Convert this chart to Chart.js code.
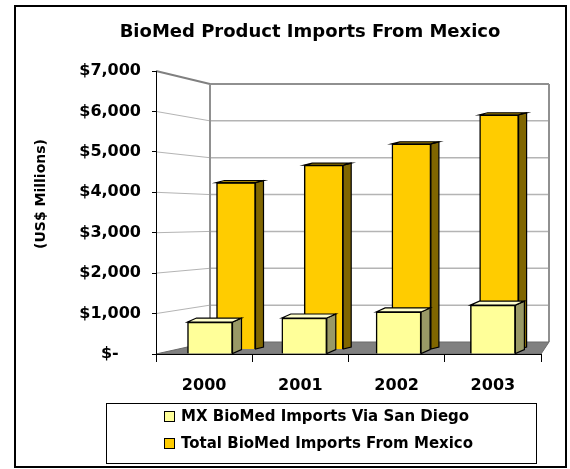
<!DOCTYPE html>
<html>
<head>
<meta charset="utf-8">
<script src="https://cdn.jsdelivr.net/npm/chart.js@4.4.1/dist/chart.umd.min.js"></script>
<style>
  html, body { margin: 0; padding: 0; background: #fff; }
</style>
</head>
<body>
<canvas id="chart" width="570" height="469"></canvas>
<script>
var years = ['2000', '2001', '2002', '2003'];
var viaSanDiego = [790, 890, 1040, 1210];
var totalFromMexico = [4300, 4750, 5300, 6050];
// accounting style: the zero label keeps its trailing padding
var yTickLabels = ['$-    ', '$1,000', '$2,000', '$3,000', '$4,000', '$5,000', '$6,000', '$7,000'];

var FONT = 'DejaVu Sans',
    Y_MAX = 7000,
    Y_STEP = 1000;

// front face of the 3d box (this is the chart area)
var box = { left: 156, right: 541, top: 71, bottom: 354 };
// back wall: offsets from the front plane, and where 0 / max land on it
var wall = { leftDx: 54, rightDx: 8, zero: 342, top: 84 };
// plane the total bars stand on (between front and back)
var mid = { zero: 349, top: 78 };

// bounds for a hidden y scale so that 0 and Y_MAX land on given pixels
var ySpan = function (p0, pTop) {
  var h = box.bottom - box.top,
      range = Y_MAX * h / (p0 - pTop),
      max = Y_MAX + (pTop - box.top) * range / h;
  return { min: max - range, max: max };
};
// bounds for a hidden x scale, first bar centre and step between bars
var xSpan = function (first, step) {
  var min = -(first - box.left) / step;
  return { min: min, max: min + (box.right - box.left) / step };
};

var backY = ySpan(wall.zero, wall.top),
    midY = ySpan(mid.zero, mid.top),
    frontX = xSpan(210, 94.3),
    backX = xSpan(236, 87.7);

var toPoints = function (arr) {
  return arr.map(function (v, i) { return { x: i, y: v }; });
};

var poly = function (ctx, pts, fill, stroke, lw) {
  ctx.beginPath();
  ctx.moveTo(pts[0][0], pts[0][1]);
  for (var i = 1; i < pts.length; i++) {
    ctx.lineTo(pts[i][0], pts[i][1]);
  }
  ctx.closePath();
  if (fill) {
    ctx.fillStyle = fill;
    ctx.fill();
  }
  if (stroke) {
    ctx.lineWidth = lw || 1;
    ctx.strokeStyle = stroke;
    ctx.stroke();
  }
};

var line = function (ctx, x1, y1, x2, y2, color, lw) {
  ctx.beginPath();
  ctx.moveTo(x1, y1);
  ctx.lineTo(x2, y2);
  ctx.lineWidth = lw;
  ctx.strokeStyle = color;
  ctx.stroke();
};

var box3d = {
  id: 'box3d',
  beforeDraw: function (chart) {
    var ctx = chart.ctx,
        a = chart.chartArea,
        y = chart.scales.y,
        yb = chart.scales.yb,
        bl = a.left + wall.leftDx,
        br = a.right + wall.rightDx,
        v;

    ctx.save();
    ctx.fillStyle = '#fff';
    ctx.fillRect(0, 0, chart.width, chart.height);

    // outer frame
    ctx.lineWidth = 2;
    ctx.strokeStyle = '#000';
    ctx.strokeRect(15, 6, 551, 461);

    // title
    ctx.fillStyle = '#000';
    ctx.font = 'bold 18px "' + FONT + '"';
    ctx.textAlign = 'center';
    ctx.textBaseline = 'middle';
    ctx.fillText('BioMed Product Imports From Mexico', 310, 32);

    // y axis title
    ctx.save();
    ctx.translate(41, 194);
    ctx.rotate(-Math.PI / 2);
    ctx.font = 'bold 14px "' + FONT + '"';
    ctx.fillText('(US$ Millions)', 0, 0);
    ctx.restore();

    // gridlines on the side wall and back wall
    for (v = Y_STEP; v < Y_MAX; v += Y_STEP) {
      line(ctx, a.left, y.getPixelForValue(v), bl, yb.getPixelForValue(v), '#b4b4b4', 1);
      line(ctx, bl, yb.getPixelForValue(v), br, yb.getPixelForValue(v), '#b4b4b4', 1.5);
    }
    // wall edges
    line(ctx, a.left, y.getPixelForValue(Y_MAX), bl, yb.getPixelForValue(Y_MAX), '#808080', 2);
    line(ctx, bl, yb.getPixelForValue(Y_MAX), br, yb.getPixelForValue(Y_MAX), '#909090', 2);
    line(ctx, bl, yb.getPixelForValue(Y_MAX), bl, yb.getPixelForValue(0), '#909090', 2);
    line(ctx, br, yb.getPixelForValue(Y_MAX), br, yb.getPixelForValue(0), '#909090', 2);

    // floor
    poly(ctx, [
      [a.left, y.getPixelForValue(0)],
      [bl, yb.getPixelForValue(0)],
      [br, yb.getPixelForValue(0)],
      [a.right, y.getPixelForValue(0)]
    ], '#808080', '#6a6a6a', 1);
    ctx.restore();
  },
  afterDatasetDraw: function (chart, args) {
    var ctx = chart.ctx,
        ds = chart.data.datasets[args.index],
        d = ds.depth;

    ctx.save();
    args.meta.data.forEach(function (el) {
      var p = el.getProps(['x', 'y', 'base', 'width'], true),
          l = p.x - p.width / 2,
          r = p.x + p.width / 2,
          t = Math.min(p.y, p.base),
          b = Math.max(p.y, p.base);
      poly(ctx, [[r, t], [r + d.dx, t + d.dy], [r + d.dx, b + d.dy], [r, b]], ds.sideColor, '#000', 1.2);
      poly(ctx, [[l, t], [l + d.dx, t + d.dy], [r + d.dx, t + d.dy], [r, t]], ds.topColor, '#000', 1.2);
    });
    ctx.restore();
  },
  afterDraw: function (chart) {
    var ctx = chart.ctx,
        rows = [417, 444];

    ctx.save();
    ctx.lineWidth = 1;
    ctx.strokeStyle = '#000';
    ctx.strokeRect(106.5, 403.5, 430, 60);

    ctx.font = 'bold 15px "' + FONT + '"';
    ctx.textAlign = 'left';
    ctx.textBaseline = 'middle';
    chart.data.datasets.forEach(function (ds, i) {
      ctx.fillStyle = ds.backgroundColor;
      ctx.fillRect(164.5, rows[i] - 5.5, 10, 10);
      ctx.strokeRect(164.5, rows[i] - 5.5, 10, 10);
      ctx.fillStyle = '#000';
      ctx.fillText(ds.label, 181, rows[i]);
    });
    ctx.restore();
  }
};

var tickFont = { family: FONT, size: 16, weight: 'bold' };

new Chart(document.getElementById('chart'), {
  type: 'bar',
  data: {
    labels: years,
    datasets: [{
      label: 'MX BioMed Imports Via San Diego',
      data: toPoints(viaSanDiego),
      xAxisID: 'xf',
      yAxisID: 'y',
      grouped: false,
      backgroundColor: '#FFFF99',
      sideColor: '#999966',
      topColor: '#FFFFCC',
      depth: { dx: 9, dy: -4 },
      borderColor: '#000',
      borderWidth: 1.5,
      barThickness: 45,
      clip: false
    }, {
      label: 'Total BioMed Imports From Mexico',
      data: toPoints(totalFromMexico),
      xAxisID: 'xb',
      yAxisID: 'ym',
      grouped: false,
      backgroundColor: '#FFCC00',
      sideColor: '#806600',
      topColor: '#D9AD00',
      depth: { dx: 8, dy: -2 },
      borderColor: '#000',
      borderWidth: 1.5,
      barThickness: 39,
      clip: false
    }]
  },
  options: {
    responsive: false,
    animation: false,
    events: [],
    layout: {
      padding: { top: box.top, right: 570 - box.right, bottom: 0, left: 0 }
    },
    plugins: {
      legend: { display: false },
      title: { display: false },
      tooltip: { enabled: false }
    },
    scales: {
      x: {
        type: 'category',
        offset: true,
        grid: { offset: true, drawOnChartArea: false, tickLength: 8, color: '#000' },
        border: { color: '#000', width: 1 },
        ticks: { font: tickFont, color: '#000', padding: 14, maxRotation: 0 },
        afterFit: function (s) { s.height = 469 - box.bottom; }
      },
      xf: { type: 'linear', display: false, offset: false, min: frontX.min, max: frontX.max },
      xb: { type: 'linear', display: false, offset: false, min: backX.min, max: backX.max },
      y: {
        type: 'linear',
        min: 0,
        max: Y_MAX,
        grid: { drawOnChartArea: false, tickLength: 4, color: '#000' },
        border: { color: '#000', width: 1 },
        ticks: {
          stepSize: Y_STEP,
          font: tickFont,
          color: '#000',
          padding: 11,
          callback: function (value) { return yTickLabels[value / Y_STEP]; }
        },
        afterFit: function (s) { s.width = box.left; }
      },
      yb: { type: 'linear', display: false, min: backY.min, max: backY.max },
      ym: { type: 'linear', display: false, min: midY.min, max: midY.max }
    }
  },
  plugins: [box3d]
});
</script>
</body>
</html>
